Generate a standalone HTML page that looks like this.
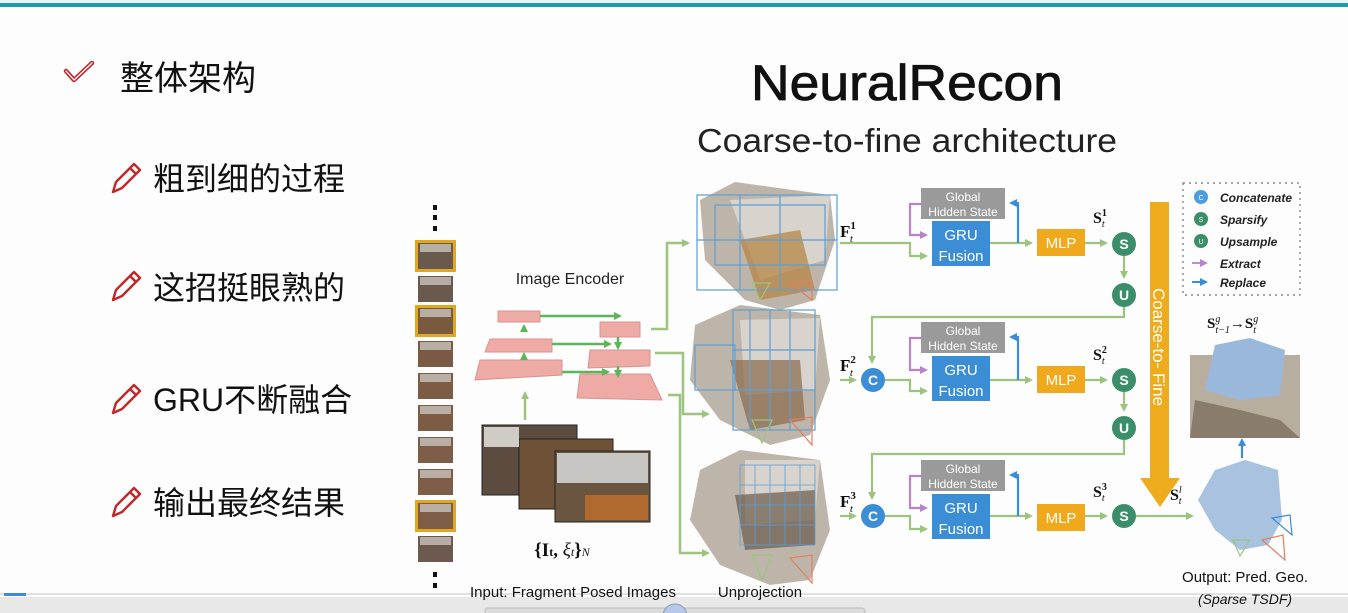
<!DOCTYPE html>
<html><head><meta charset="utf-8"><style>
html,body{margin:0;padding:0;width:1348px;height:613px;overflow:hidden;background:#fdfdfd}
svg{display:block}
.cn{font-family:"Liberation Sans","Noto Sans CJK SC",sans-serif;fill:#111}
.s{font-family:"Liberation Sans","DejaVu Sans",sans-serif}
.m{font-family:"Liberation Serif",serif;font-weight:bold;fill:#111}
</style></head><body>
<svg width="1348" height="613" viewBox="0 0 1348 613" xmlns="http://www.w3.org/2000/svg">
<defs>
<marker id="ag" markerWidth="8" markerHeight="8" refX="6" refY="4" orient="auto" markerUnits="userSpaceOnUse"><path d="M0,0 L8,4 L0,8 z" fill="#9cc47f"/></marker>
<marker id="ap" markerWidth="8" markerHeight="8" refX="6" refY="4" orient="auto" markerUnits="userSpaceOnUse"><path d="M0,0 L8,4 L0,8 z" fill="#b784c8"/></marker>
<marker id="ab" markerWidth="8" markerHeight="8" refX="6" refY="4" orient="auto" markerUnits="userSpaceOnUse"><path d="M0,0 L8,4 L0,8 z" fill="#3b8ed6"/></marker>
<marker id="agd" markerWidth="8" markerHeight="8" refX="6" refY="4" orient="auto" markerUnits="userSpaceOnUse"><path d="M0,0 L8,4 L0,8 z" fill="#5bb55b"/></marker>
</defs>
<rect x="0" y="0" width="1348" height="3" fill="#e8f3f5"/>
<rect x="0" y="3" width="1348" height="4" fill="#1e9ab0"/>

<!-- bottom bar (drawn first so labels sit on top) -->
<rect x="0" y="597" width="1348" height="16" fill="#e8e8e8"/>
<line x1="0" y1="594" x2="1348" y2="594" stroke="#c8c8c8" stroke-width="1"/>
<rect x="4" y="593" width="22" height="3" fill="#3b8ed6"/>
<rect x="485" y="608" width="380" height="8" rx="3" fill="#dcdcdc" stroke="#bbb"/>
<circle cx="675" cy="616" r="12" fill="#b8c8e8" stroke="#8899bb"/>

<!-- left bullets -->
<path d="M66,71 L74,80 L92,63" fill="none" stroke="#c0282a" stroke-width="4.5" stroke-linejoin="round" stroke-linecap="round"/>
<path d="M66,71 L74,80 L92,63" fill="none" stroke="#fff" stroke-width="1.3" stroke-linejoin="round" stroke-linecap="round"/>
<text x="120" y="90" class="cn" font-size="34">整体架构</text>
<g fill="none" stroke="#c0282a" stroke-width="2.4" stroke-linejoin="round">
<path d="M113,192 L116,182 L134,164 L140,170 L122,188 Z M130,168 L136,174"/>
<path d="M113,300 L116,290 L134,272 L140,278 L122,296 Z M130,276 L136,282"/>
<path d="M113,413 L116,403 L134,385 L140,391 L122,409 Z M130,389 L136,395"/>
<path d="M113,516 L116,506 L134,488 L140,494 L122,512 Z M130,492 L136,498"/>
</g>
<text x="153" y="190" class="cn" font-size="32">粗到细的过程</text>
<text x="153" y="299" class="cn" font-size="32">这招挺眼熟的</text>
<text x="153" y="411" class="cn" font-size="32">GRU不断融合</text>
<text x="153" y="514" class="cn" font-size="32">输出最终结果</text>

<!-- titles -->
<text x="907" y="100" text-anchor="middle" class="s" font-size="50" fill="#111" stroke="#111" stroke-width="0.8" textLength="312" lengthAdjust="spacingAndGlyphs">NeuralRecon</text>
<text x="907" y="152" text-anchor="middle" class="s" font-size="33" fill="#222" textLength="420" lengthAdjust="spacingAndGlyphs">Coarse-to-fine architecture</text>

<!-- frame strip -->
<g fill="#111"><rect x="433" y="205" width="4" height="5"/><rect x="433" y="215" width="4" height="5"/><rect x="433" y="226" width="4" height="5"/>
<rect x="433" y="572" width="4" height="5"/><rect x="433" y="583" width="4" height="5"/></g>
<g>
<rect x="415" y="240" width="41" height="32" fill="#e0a820"/>
<rect x="418" y="243" width="35" height="26" fill="#6a5a4e"/>
<rect x="418" y="276" width="35" height="26" fill="#6a5a4e"/>
<rect x="415" y="305" width="41" height="32" fill="#e0a820"/>
<rect x="418" y="308" width="35" height="26" fill="#7a5a3e"/>
<rect x="418" y="341" width="35" height="26" fill="#7a5a44"/>
<rect x="418" y="373" width="35" height="26" fill="#7d5c44"/>
<rect x="418" y="405" width="35" height="26" fill="#7d5c44"/>
<rect x="418" y="437" width="35" height="26" fill="#7d5c48"/>
<rect x="418" y="469" width="35" height="26" fill="#7d5c48"/>
<rect x="415" y="500" width="41" height="32" fill="#e0a820"/>
<rect x="418" y="503" width="35" height="26" fill="#7d5c48"/>
<rect x="418" y="536" width="35" height="26" fill="#6d5a4e"/>
</g>
<g fill="#c9c4bd" opacity="0.8">
<rect x="420" y="244" width="31" height="8"/><rect x="420" y="277" width="31" height="8"/><rect x="420" y="309" width="31" height="8"/><rect x="420" y="342" width="31" height="8"/><rect x="420" y="374" width="31" height="8"/><rect x="420" y="406" width="31" height="8"/><rect x="420" y="438" width="31" height="8"/><rect x="420" y="470" width="31" height="8"/><rect x="420" y="504" width="31" height="8"/><rect x="420" y="537" width="31" height="8"/>
</g>

<!-- encoder -->
<text x="570" y="284" text-anchor="middle" class="s" font-size="16" fill="#222">Image Encoder</text>
<g fill="#eeaaa5" stroke="#dc928e" stroke-width="1">
<polygon points="498,311 540,311 540,322 498,322"/>
<polygon points="490,339 552,339 552,352 485,352"/>
<polygon points="480,360 562,360 562,375 475,380"/>
<polygon points="600,322 640,322 640,337 600,337"/>
<polygon points="590,350 650,350 650,366 588,368"/>
<polygon points="580,374 650,374 662,400 577,398"/>
</g>
<g stroke="#5bb55b" stroke-width="2.5" fill="none">
<line x1="540" y1="316" x2="620" y2="316" marker-end="url(#agd)"/>
<line x1="552" y1="344" x2="610" y2="344" marker-end="url(#agd)"/>
<line x1="562" y1="372" x2="608" y2="372" marker-end="url(#agd)"/>
<line x1="524" y1="332" x2="524" y2="326" marker-end="url(#agd)"/>
<line x1="524" y1="360" x2="524" y2="354" marker-end="url(#agd)"/>
<line x1="618" y1="337" x2="618" y2="348" marker-end="url(#agd)"/>
<line x1="618" y1="366" x2="618" y2="376" marker-end="url(#agd)"/>
</g>
<line x1="525" y1="420" x2="525" y2="393" stroke="#9cc47f" stroke-width="2.5" marker-end="url(#ag)"/>

<!-- photos -->
<rect x="482" y="425" width="95" height="70" fill="#5c4c40" stroke="#222"/>
<rect x="519" y="439" width="94" height="70" fill="#6e5238" stroke="#222"/>
<rect x="555" y="451" width="95" height="71" fill="#6a5540" stroke="#222"/>
<rect x="557" y="453" width="91" height="30" fill="#c8c6c2"/>
<rect x="484" y="427" width="35" height="20" fill="#cfcbc5"/>
<rect x="585" y="495" width="63" height="25" fill="#b06a30"/>
<text x="562" y="556" text-anchor="middle" class="m" font-size="19" font-weight="normal">{<tspan font-weight="bold">I</tspan><tspan font-size="12" font-weight="bold">t</tspan>, <tspan font-style="italic" font-weight="normal">ξ</tspan><tspan font-size="12" font-style="italic" font-weight="normal">t</tspan>}<tspan font-size="12" font-style="italic" font-weight="normal">N</tspan></text>

<!-- encoder to scenes arrows -->
<g stroke="#9cc47f" stroke-width="2.5" fill="none">
<path d="M651,329 L667,329 L667,243 L688,243" marker-end="url(#ag)"/>
<path d="M655,353 L683,353 L683,414 L708,414" marker-end="url(#ag)"/>
<path d="M668,395 L680,395 L680,553 L708,553" marker-end="url(#ag)"/>
</g>

<!-- 3D scenes -->
<g>
<polygon points="700,200 735,182 830,195 835,240 815,300 780,310 745,300 705,260" fill="#a89c8e" opacity="0.75"/>
<polygon points="730,200 830,195 825,260 760,280" fill="#d8d3cc"/>
<polygon points="740,240 800,230 815,290 760,300" fill="#b5823f" opacity="0.7"/>
<g stroke="#5a9fd6" stroke-width="1.2" fill="none"><rect x="697" y="195" width="140" height="95"/><rect x="715" y="205" width="110" height="60"/><line x1="740" y1="195" x2="740" y2="290"/><line x1="780" y1="195" x2="780" y2="290"/><line x1="697" y1="240" x2="837" y2="240"/></g>
<polygon points="695,325 740,305 820,315 830,380 810,435 770,445 720,420 690,380" fill="#a89c8e" opacity="0.75"/>
<polygon points="740,320 820,318 815,390 745,395" fill="#d8d3cc"/>
<polygon points="730,360 800,360 805,420 750,430" fill="#8a6a4a" opacity="0.7"/>
<g stroke="#5a9fd6" stroke-width="1.2" fill="none"><rect x="733" y="310" width="82" height="120"/><line x1="750" y1="310" x2="750" y2="430"/><line x1="770" y1="310" x2="770" y2="430"/><line x1="790" y1="310" x2="790" y2="430"/><line x1="733" y1="350" x2="815" y2="350"/><line x1="733" y1="390" x2="815" y2="390"/><rect x="695" y="345" width="40" height="45"/></g>
<polygon points="700,470 740,450 820,460 830,530 810,580 770,585 720,565 690,520" fill="#a89c8e" opacity="0.75"/>
<polygon points="745,460 820,460 815,520 745,525" fill="#d8d3cc"/>
<polygon points="735,495 815,490 815,545 745,550" fill="#6a5a4a" opacity="0.7"/>
<g stroke="#5a9fd6" stroke-width="0.8" fill="none"><rect x="740" y="465" width="75" height="80"/><line x1="755" y1="465" x2="755" y2="545"/><line x1="770" y1="465" x2="770" y2="545"/><line x1="785" y1="465" x2="785" y2="545"/><line x1="800" y1="465" x2="800" y2="545"/><line x1="740" y1="485" x2="815" y2="485"/><line x1="740" y1="505" x2="815" y2="505"/><line x1="740" y1="525" x2="815" y2="525"/></g>
<g fill="none" stroke-width="1.2"><path d="M752,283 L770,283 L760,300 Z" stroke="#9cc47f"/><path d="M790,283 L812,280 L812,300 Z" stroke="#e08060"/>
<path d="M752,420 L772,420 L762,443 Z" stroke="#9cc47f"/><path d="M790,420 L812,417 L812,445 Z" stroke="#e08060"/>
<path d="M752,555 L772,555 L762,580 Z" stroke="#9cc47f"/><path d="M790,558 L812,555 L812,583 Z" stroke="#e08060"/></g>
</g>

<!-- F labels -->
<text x="840" y="237" class="m" font-size="17">F<tspan font-size="11" dy="-8">1</tspan><tspan font-size="11" font-style="italic" font-weight="normal" dx="-6" dy="13">t</tspan></text>
<text x="840" y="371" class="m" font-size="17">F<tspan font-size="11" dy="-8">2</tspan><tspan font-size="11" font-style="italic" font-weight="normal" dx="-6" dy="13">t</tspan></text>
<text x="840" y="507" class="m" font-size="17">F<tspan font-size="11" dy="-8">3</tspan><tspan font-size="11" font-style="italic" font-weight="normal" dx="-6" dy="13">t</tspan></text>

<!-- rows -->
<rect x="921" y="188" width="84" height="31" fill="#9a9a9a"/>
<text x="963" y="201" text-anchor="middle" class="s" font-size="12" fill="#fff">Global</text>
<text x="963" y="216" text-anchor="middle" class="s" font-size="12" fill="#fff">Hidden State</text>
<rect x="932" y="221" width="58" height="45" fill="#3b8ed6"/>
<text x="961" y="240" text-anchor="middle" class="s" font-size="15" fill="#fff">GRU</text>
<text x="961" y="261" text-anchor="middle" class="s" font-size="15" fill="#fff">Fusion</text>
<rect x="1037" y="229" width="48" height="27" fill="#f0a81c"/>
<text x="1061" y="248" text-anchor="middle" class="s" font-size="15" fill="#fff">MLP</text>
<rect x="921" y="322" width="84" height="31" fill="#9a9a9a"/>
<text x="963" y="335" text-anchor="middle" class="s" font-size="12" fill="#fff">Global</text>
<text x="963" y="350" text-anchor="middle" class="s" font-size="12" fill="#fff">Hidden State</text>
<rect x="932" y="356" width="58" height="45" fill="#3b8ed6"/>
<text x="961" y="375" text-anchor="middle" class="s" font-size="15" fill="#fff">GRU</text>
<text x="961" y="396" text-anchor="middle" class="s" font-size="15" fill="#fff">Fusion</text>
<rect x="1037" y="366" width="48" height="27" fill="#f0a81c"/>
<text x="1061" y="385" text-anchor="middle" class="s" font-size="15" fill="#fff">MLP</text>
<rect x="921" y="460" width="84" height="31" fill="#9a9a9a"/>
<text x="963" y="473" text-anchor="middle" class="s" font-size="12" fill="#fff">Global</text>
<text x="963" y="488" text-anchor="middle" class="s" font-size="12" fill="#fff">Hidden State</text>
<rect x="932" y="494" width="58" height="45" fill="#3b8ed6"/>
<text x="961" y="513" text-anchor="middle" class="s" font-size="15" fill="#fff">GRU</text>
<text x="961" y="534" text-anchor="middle" class="s" font-size="15" fill="#fff">Fusion</text>
<rect x="1037" y="504" width="48" height="27" fill="#f0a81c"/>
<text x="1061" y="523" text-anchor="middle" class="s" font-size="15" fill="#fff">MLP</text>

<g stroke="#9cc47f" stroke-width="2.2" fill="none">
<path d="M840,243 L910,243 L910,256 L926,256" marker-end="url(#ag)"/>
<path d="M990,243 L1031,243" marker-end="url(#ag)"/>
<line x1="1085" y1="243" x2="1106" y2="243" marker-end="url(#ag)"/>
<line x1="1124" y1="256" x2="1124" y2="277" marker-end="url(#ag)"/>
<path d="M1124,307 L1124,317 L872,317 L872,362" marker-end="url(#ag)"/>
<line x1="840" y1="380" x2="855" y2="380" marker-end="url(#ag)"/>
<path d="M885,380 L910,380 L910,391 L926,391" marker-end="url(#ag)"/>
<path d="M990,380 L1031,380" marker-end="url(#ag)"/>
<line x1="1085" y1="380" x2="1106" y2="380" marker-end="url(#ag)"/>
<line x1="1124" y1="392" x2="1124" y2="410" marker-end="url(#ag)"/>
<path d="M1124,440 L1124,454 L872,454 L872,498" marker-end="url(#ag)"/>
<line x1="840" y1="516" x2="855" y2="516" marker-end="url(#ag)"/>
<path d="M885,516 L910,516 L910,529 L926,529" marker-end="url(#ag)"/>
<path d="M990,516 L1031,516" marker-end="url(#ag)"/>
<line x1="1085" y1="516" x2="1106" y2="516" marker-end="url(#ag)"/>
<line x1="1136" y1="516" x2="1192" y2="516" marker-end="url(#ag)"/>
</g>
<g stroke="#b784c8" stroke-width="2.2" fill="none">
<path d="M921,204 L910,204 L910,235 L926,235" marker-end="url(#ap)"/>
<path d="M921,338 L910,338 L910,370 L926,370" marker-end="url(#ap)"/>
<path d="M921,476 L910,476 L910,508 L926,508" marker-end="url(#ap)"/>
</g>
<g stroke="#3b8ed6" stroke-width="2.2" fill="none">
<path d="M1018,243 L1018,203 L1011,203" marker-end="url(#ab)"/>
<path d="M1018,380 L1018,337 L1011,337" marker-end="url(#ab)"/>
<path d="M1018,516 L1018,475 L1011,475" marker-end="url(#ab)"/>
<line x1="1242" y1="458" x2="1242" y2="440" marker-end="url(#ab)"/>
</g>

<!-- circles -->
<g font-family="Liberation Sans,sans-serif" font-weight="bold" font-size="14" fill="#fff" text-anchor="middle">
<circle cx="1124" cy="244" r="12" fill="#3a8f6a"/><text x="1124" y="249">S</text>
<circle cx="1124" cy="295" r="12" fill="#3a8f6a"/><text x="1124" y="300">U</text>
<circle cx="873" cy="380" r="12" fill="#3b8ed6"/><text x="873" y="385">C</text>
<circle cx="1124" cy="380" r="12" fill="#3a8f6a"/><text x="1124" y="385">S</text>
<circle cx="1124" cy="428" r="12" fill="#3a8f6a"/><text x="1124" y="433">U</text>
<circle cx="873" cy="516" r="12" fill="#3b8ed6"/><text x="873" y="521">C</text>
<circle cx="1124" cy="516" r="12" fill="#3a8f6a"/><text x="1124" y="521">S</text>
</g>
<text x="1093" y="223" class="m" font-size="16">S<tspan font-size="10" dy="-7">1</tspan><tspan font-size="10" font-style="italic" font-weight="normal" dx="-5" dy="11">t</tspan></text>
<text x="1093" y="360" class="m" font-size="16">S<tspan font-size="10" dy="-7">2</tspan><tspan font-size="10" font-style="italic" font-weight="normal" dx="-5" dy="11">t</tspan></text>
<text x="1093" y="497" class="m" font-size="16">S<tspan font-size="10" dy="-7">3</tspan><tspan font-size="10" font-style="italic" font-weight="normal" dx="-5" dy="11">t</tspan></text>
<text x="1170" y="500" class="m" font-size="16">S<tspan font-size="10" font-style="italic" font-weight="normal" dy="-7">l</tspan><tspan font-size="10" font-style="italic" font-weight="normal" dx="-3" dy="11">t</tspan></text>

<!-- coarse-to-fine bar -->
<rect x="1150" y="202" width="19" height="278" fill="#eeac1c"/>
<polygon points="1140,478 1180,478 1160,507" fill="#eeac1c"/>
<text transform="translate(1153,288) rotate(90)" class="s" font-size="17" fill="#fff">Coarse-to- Fine</text>

<!-- legend -->
<rect x="1183" y="183" width="117" height="112" fill="none" stroke="#777" stroke-width="1.2" stroke-dasharray="2,4"/>
<g font-family="Liberation Sans,sans-serif" font-size="7" fill="#fff" text-anchor="middle">
<circle cx="1201" cy="197" r="7" fill="#4a9ee0"/><text x="1201" y="200">C</text>
<circle cx="1201" cy="219" r="7" fill="#3a8f6a"/><text x="1201" y="222">S</text>
<circle cx="1201" cy="241" r="7" fill="#3a8f6a"/><text x="1201" y="244">U</text>
</g>
<line x1="1192" y1="263" x2="1206" y2="263" stroke="#c08ad0" stroke-width="2" marker-end="url(#ap)"/>
<line x1="1192" y1="282" x2="1206" y2="282" stroke="#3b8ed6" stroke-width="2" marker-end="url(#ab)"/>
<g class="s" font-size="12" font-style="italic" font-weight="bold" fill="#222">
<text x="1220" y="202">Concatenate</text><text x="1220" y="224">Sparsify</text><text x="1220" y="246">Upsample</text><text x="1220" y="268">Extract</text><text x="1220" y="287">Replace</text>
</g>

<!-- right outputs -->
<text x="1207" y="328" class="m" font-size="15">S<tspan font-size="10" font-style="italic" font-weight="normal" dy="-6">g</tspan><tspan font-size="10" font-style="italic" font-weight="normal" dx="-5" dy="11">t−1</tspan><tspan dy="-5">→S</tspan><tspan font-size="10" font-style="italic" font-weight="normal" dy="-6">g</tspan><tspan font-size="10" font-style="italic" font-weight="normal" dx="-5" dy="11">t</tspan></text>
<rect x="1190" y="355" width="110" height="83" fill="#b8aea0"/>
<polygon points="1215,345 1250,338 1285,350 1280,395 1240,400 1205,390" fill="#9ab8dc"/>
<polygon points="1195,400 1240,410 1280,420 1300,438 1190,438" fill="#6a5a4a" opacity="0.6"/>
<polygon points="1215,470 1245,460 1278,470 1282,520 1268,545 1240,550 1215,530 1198,500" fill="#a9c2e0"/>
<g fill="none" stroke-width="1.2"><path d="M1233,540 L1250,540 L1240,556 Z" stroke="#9cc47f"/><path d="M1262,540 L1283,535 L1285,560 Z" stroke="#e08060"/><path d="M1272,518 L1290,515 L1292,535 Z" stroke="#3b8ed6"/></g>
<text x="1245" y="582" text-anchor="middle" class="s" font-size="15" fill="#111">Output: Pred. Geo.</text>
<text x="1245" y="604" text-anchor="middle" class="s" font-size="14" font-style="italic" fill="#111">(Sparse TSDF)</text>
<text x="573" y="597" text-anchor="middle" class="s" font-size="15" fill="#111">Input: Fragment Posed Images</text>
<text x="760" y="597" text-anchor="middle" class="s" font-size="15" fill="#111">Unprojection</text>
</svg>
</body></html>
